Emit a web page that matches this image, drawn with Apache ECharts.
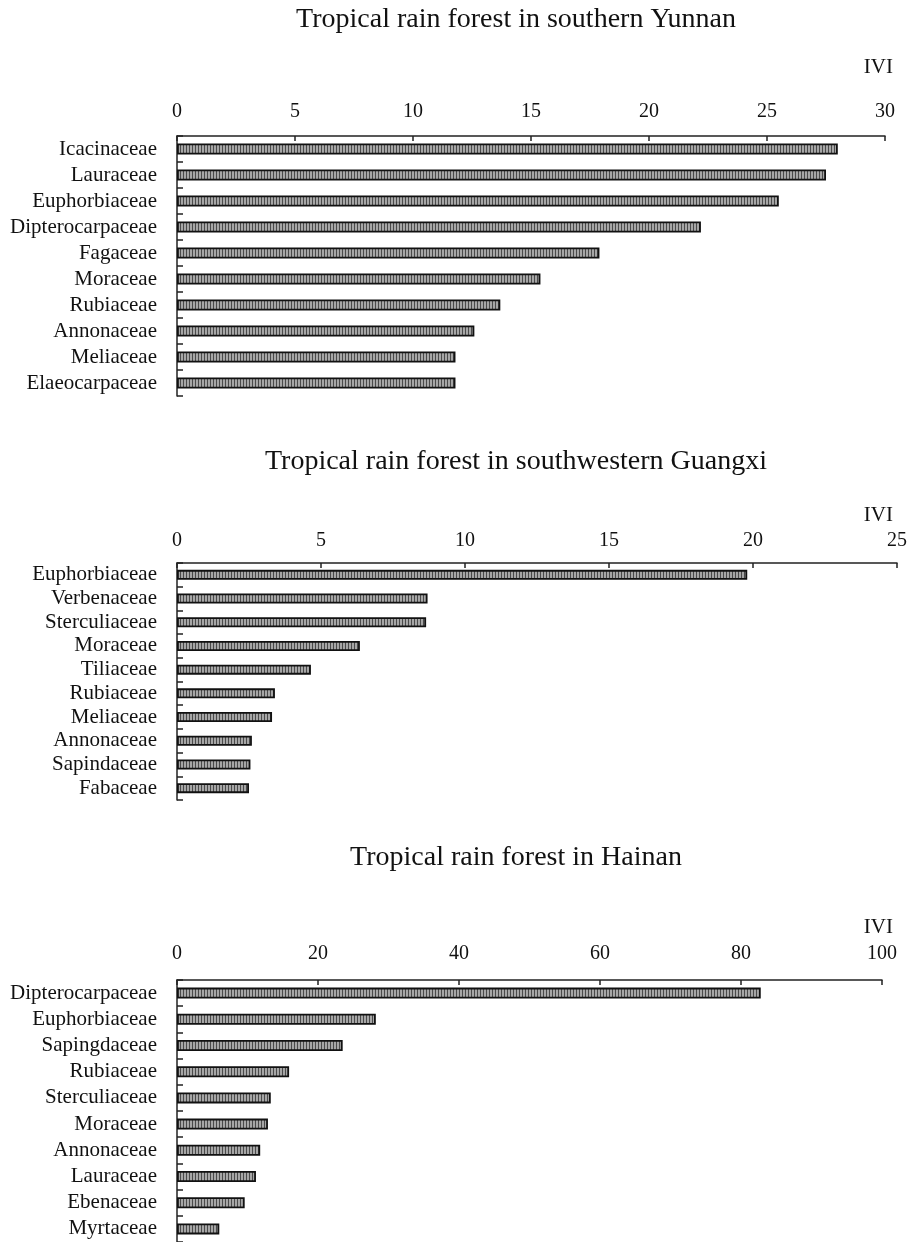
<!DOCTYPE html>
<html>
<head>
<meta charset="utf-8">
<script src="https://cdn.jsdelivr.net/npm/echarts@6/dist/echarts.min.js"></script>
<style>
  html, body { margin: 0; padding: 0; background: #fff; }
  #chart { width: 915px; height: 1242px; }
</style>
</head>
<body>
<div id="chart"></div>
<script>
const titles = [
  "Tropical rain forest in southern Yunnan",
  "Tropical rain forest in southwestern Guangxi",
  "Tropical rain forest in Hainan"
];

const yunnanFamilies = ["Icacinaceae", "Lauraceae", "Euphorbiaceae", "Dipterocarpaceae", "Fagaceae",
  "Moraceae", "Rubiaceae", "Annonaceae", "Meliaceae", "Elaeocarpaceae"];
const yunnanIVI = [28.0, 27.5, 25.5, 22.2, 17.9, 15.4, 13.7, 12.6, 11.8, 11.8];

const guangxiFamilies = ["Euphorbiaceae", "Verbenaceae", "Sterculiaceae", "Moraceae", "Tiliaceae",
  "Rubiaceae", "Meliaceae", "Annonaceae", "Sapindaceae", "Fabaceae"];
const guangxiIVI = [19.8, 8.7, 8.65, 6.35, 4.65, 3.4, 3.3, 2.6, 2.55, 2.5];

const hainanFamilies = ["Dipterocarpaceae", "Euphorbiaceae", "Sapingdaceae", "Rubiaceae", "Sterculiaceae",
  "Moraceae", "Annonaceae", "Lauraceae", "Ebenaceae", "Myrtaceae"];
const hainanIVI = [82.8, 28.2, 23.5, 15.9, 13.3, 12.9, 11.8, 11.2, 9.6, 6.0];

const axisMax = [30, 25, 100];
const axisStep = [5, 5, 20];

// striped fill like the printed hatch
const pat = document.createElement("canvas");
pat.width = 3; pat.height = 4;
const pc = pat.getContext("2d");
pc.fillStyle = "#a6a6a6"; pc.fillRect(0, 0, 3, 4);
pc.fillStyle = "#4a4a4a"; pc.fillRect(0, 0, 1, 4);

const font = "'Liberation Serif', 'Times New Roman', serif";

const grids = [
  { left: 177, top: 136, width: 708, height: 260 },
  { left: 177, top: 563, width: 720, height: 237 },
  { left: 177, top: 980, width: 705, height: 265 }
];
const labelMargin = [14, 12, 16];
const barW = [11, 10, 11];
const cats = [yunnanFamilies, guangxiFamilies, hainanFamilies];
const vals = [yunnanIVI, guangxiIVI, hainanIVI];

const chart = echarts.init(document.getElementById("chart"), null, { renderer: "canvas" });

const titleStyle = { fontFamily: font, fontWeight: "normal", color: "#111", fontSize: 28 };
const iviStyle = { fontFamily: font, fontWeight: "normal", color: "#111", fontSize: 21 };

chart.setOption({
  backgroundColor: "#fff",
  animation: false,
  title: [
    { text: titles[0], left: 511, textAlign: "center", top: 1, textStyle: titleStyle },
    { text: titles[1], left: 511, textAlign: "center", top: 443, textStyle: titleStyle },
    { text: titles[2], left: 511, textAlign: "center", top: 839, textStyle: titleStyle },
    { text: "IVI", right: 17, top: 52, textStyle: iviStyle },
    { text: "IVI", right: 17, top: 500, textStyle: iviStyle },
    { text: "IVI", right: 17, top: 912, textStyle: iviStyle }
  ],
  grid: grids,
  xAxis: grids.map((g, i) => ({
    type: "value",
    gridIndex: i,
    position: "top",
    min: 0,
    max: axisMax[i],
    interval: axisStep[i],
    axisLine: { show: true, lineStyle: { color: "#222", width: 1.5 } },
    axisTick: { show: true, inside: true, length: 5, lineStyle: { color: "#222", width: 1.5 } },
    splitLine: { show: false },
    axisLabel: { margin: labelMargin[i], fontFamily: font, fontSize: 20, color: "#111" }
  })),
  yAxis: grids.map((g, i) => ({
    type: "category",
    gridIndex: i,
    inverse: true,
    data: cats[i],
    axisLine: { show: true, lineStyle: { color: "#222", width: 1.5 } },
    axisTick: { show: true, inside: true, length: 6, lineStyle: { color: "#222", width: 1.5 } },
    axisLabel: { interval: 0, margin: 20, fontFamily: font, fontSize: 21, color: "#111" }
  })),
  series: vals.map((v, i) => ({
    type: "bar",
    xAxisIndex: i,
    yAxisIndex: i,
    data: v,
    barWidth: barW[i],
    itemStyle: {
      color: { image: pat, repeat: "repeat" },
      borderColor: "#111",
      borderWidth: 1.8
    }
  }))
});
</script>
</body>
</html>
